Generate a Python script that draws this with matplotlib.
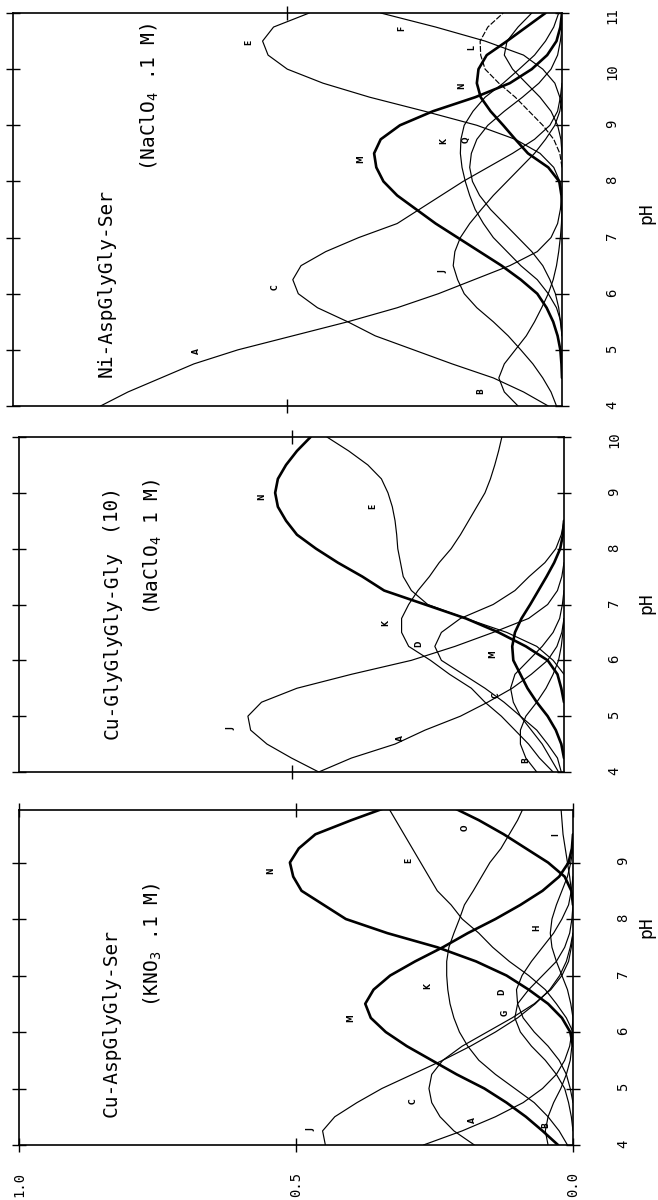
import numpy as np
import matplotlib
matplotlib.use("Agg")
import matplotlib.pyplot as plt

plt.rcParams['font.family'] = ['DejaVu Sans Mono', 'DejaVu Sans']
plt.rcParams['mathtext.fontset'] = 'custom'
plt.rcParams['mathtext.rm'] = 'DejaVu Sans Mono'
plt.rcParams['mathtext.default'] = 'rm'

# ---------------- data ----------------
PH_NI = [4.0, 4.25, 4.5, 4.75, 5.0, 5.25, 5.5, 5.75, 6.0, 6.25, 6.5, 6.75, 7.0, 7.25,
         7.5, 7.75, 8.0, 8.25, 8.5, 8.75, 9.0, 9.25, 9.5, 9.75, 10.0, 10.25, 10.5, 10.75, 11.0]
PH_CU = [4.0, 4.25, 4.5, 4.75, 5.0, 5.25, 5.5, 5.75, 6.0, 6.25, 6.5, 6.75, 7.0, 7.25,
         7.5, 7.75, 8.0, 8.25, 8.5, 8.75, 9.0, 9.25, 9.5, 9.75, 10.0]

# Ni-AspGlyGly-Ser
ni_A = [0.84, 0.79, 0.73, 0.67, 0.59, 0.49, 0.39, 0.30, 0.225, 0.16, 0.095, 0.045, 0.02, 0.008,
        0.003, 0, 0, 0, 0, 0, 0, 0, 0, 0, 0, 0, 0, 0, 0]
ni_B = [0.08, 0.105, 0.115, 0.105, 0.085, 0.065, 0.05, 0.037, 0.025, 0.016, 0.01, 0.006, 0.003, 0.001,
        0, 0, 0, 0, 0, 0, 0, 0, 0, 0, 0, 0, 0, 0, 0]
ni_C = [0.025, 0.07, 0.125, 0.2, 0.27, 0.34, 0.39, 0.445, 0.48, 0.49, 0.475, 0.43, 0.37, 0.30,
        0.26, 0.22, 0.18, 0.135, 0.09, 0.05, 0.022, 0.008, 0.003, 0, 0, 0, 0, 0, 0]
ni_E = [0, 0, 0, 0, 0, 0, 0, 0, 0, 0, 0, 0, 0, 0,
        0, 0, 0.004, 0.015, 0.04, 0.085, 0.155, 0.25, 0.35, 0.435, 0.50, 0.535, 0.545, 0.525, 0.46]
ni_F = [0, 0, 0, 0, 0, 0, 0, 0, 0, 0, 0, 0, 0, 0,
        0, 0, 0, 0, 0, 0, 0, 0, 0.004, 0.013, 0.035, 0.07, 0.14, 0.23, 0.33]
ni_J = [0.01, 0.02, 0.035, 0.053, 0.075, 0.098, 0.125, 0.155, 0.178, 0.19, 0.198, 0.195, 0.185, 0.168,
        0.147, 0.125, 0.1, 0.075, 0.05, 0.03, 0.013, 0.004, 0, 0, 0, 0, 0, 0, 0]
ni_K = [0, 0, 0, 0, 0, 0, 0.002, 0.01, 0.025, 0.045, 0.075, 0.1, 0.125, 0.143,
        0.158, 0.168, 0.176, 0.182, 0.185, 0.184, 0.178, 0.162, 0.14, 0.107, 0.078, 0.05, 0.03, 0.015, 0.006]
ni_L = [0, 0, 0, 0, 0, 0, 0, 0, 0, 0, 0, 0, 0, 0,
        0, 0, 0, 0, 0.004, 0.015, 0.035, 0.06, 0.085, 0.115, 0.14, 0.148, 0.149, 0.135, 0.107]
ni_M = [0, 0, 0, 0.001, 0.003, 0.008, 0.016, 0.028, 0.045, 0.075, 0.11, 0.15, 0.19, 0.23,
        0.265, 0.30, 0.325, 0.338, 0.342, 0.33, 0.295, 0.235, 0.158, 0.095, 0.055, 0.027, 0.01, 0.003, 0]
ni_N = [0, 0, 0, 0, 0, 0, 0, 0, 0, 0, 0, 0, 0, 0,
        0, 0.001, 0.005, 0.025, 0.062, 0.085, 0.107, 0.13, 0.148, 0.155, 0.152, 0.137, 0.1, 0.065, 0.03]
ni_O = [0, 0, 0, 0, 0, 0, 0, 0, 0, 0, 0, 0, 0, 0,
        0, 0, 0, 0, 0, 0.002, 0.008, 0.02, 0.04, 0.065, 0.09, 0.105, 0.1, 0.08, 0.055]
ni_Q = [0, 0, 0, 0, 0, 0, 0.003, 0.006, 0.012, 0.022, 0.035, 0.055, 0.08, 0.105,
        0.13, 0.15, 0.163, 0.168, 0.165, 0.155, 0.135, 0.105, 0.072, 0.042, 0.02, 0.008, 0.003, 0, 0]

# Cu-GlyGlyGly-Gly
gg_A = [0.45, 0.39, 0.31, 0.255, 0.19, 0.14, 0.095, 0.06, 0.03, 0.013, 0.004, 0, 0,
        0, 0, 0, 0, 0, 0, 0, 0, 0, 0, 0, 0]
gg_B = [0.05, 0.07, 0.08, 0.08, 0.07, 0.05, 0.033, 0.02, 0.01, 0.005, 0.002, 0, 0,
        0, 0, 0, 0, 0, 0, 0, 0, 0, 0, 0, 0]
gg_C = [0.01, 0.025, 0.04, 0.06, 0.08, 0.093, 0.098, 0.09, 0.065, 0.04, 0.02, 0.008, 0.003,
        0, 0, 0, 0, 0, 0, 0, 0, 0, 0, 0, 0]
gg_D = [0.005, 0.012, 0.03, 0.05, 0.08, 0.11, 0.145, 0.185, 0.225, 0.237, 0.225, 0.19, 0.13,
        0.09, 0.064, 0.035, 0.015, 0.005, 0, 0, 0, 0, 0, 0, 0]
gg_E = [0, 0, 0, 0, 0, 0, 0, 0, 0.02, 0.05, 0.105, 0.18, 0.25,
        0.28, 0.295, 0.30, 0.305, 0.307, 0.31, 0.315, 0.323, 0.335, 0.36, 0.395, 0.435]
gg_J = [0.45, 0.50, 0.545, 0.575, 0.58, 0.555, 0.49, 0.39, 0.28, 0.2, 0.13, 0.065, 0.03,
        0.012, 0.004, 0, 0, 0, 0, 0, 0, 0, 0, 0, 0]
gg_K = [0.02, 0.045, 0.065, 0.09, 0.115, 0.145, 0.17, 0.21, 0.245, 0.285, 0.298, 0.298, 0.285,
        0.268, 0.247, 0.229, 0.207, 0.19, 0.175, 0.16, 0.145, 0.135, 0.127, 0.12, 0.114]
gg_M = [0, 0, 0.005, 0.015, 0.03, 0.05, 0.067, 0.08, 0.093, 0.095, 0.09, 0.078, 0.062,
        0.047, 0.032, 0.018, 0.007, 0.002, 0, 0, 0, 0, 0, 0, 0]
gg_N = [0, 0, 0, 0, 0, 0, 0.005, 0.012, 0.03, 0.07, 0.12, 0.18, 0.255,
        0.33, 0.37, 0.415, 0.455, 0.49, 0.51, 0.525, 0.53, 0.525, 0.51, 0.49, 0.465]

# Cu-AspGlyGly-Ser
ag_A = [0.27, 0.2, 0.14, 0.09, 0.055, 0.03, 0.015, 0.006, 0.002, 0, 0, 0, 0,
        0, 0, 0, 0, 0, 0, 0, 0, 0, 0, 0, 0]
ag_B = [0.045, 0.05, 0.045, 0.035, 0.022, 0.012, 0.005, 0.002, 0, 0, 0, 0, 0,
        0, 0, 0, 0, 0, 0, 0, 0, 0, 0, 0, 0]
ag_C = [0.178, 0.215, 0.24, 0.255, 0.26, 0.255, 0.235, 0.2, 0.155, 0.11, 0.07, 0.04, 0.02,
        0.008, 0.003, 0, 0, 0, 0, 0, 0, 0, 0, 0, 0]
ag_D = [0, 0, 0, 0, 0.005, 0.012, 0.025, 0.045, 0.07, 0.09, 0.1, 0.102, 0.092,
        0.075, 0.055, 0.035, 0.02, 0.008, 0.003, 0, 0, 0, 0, 0, 0]
ag_E = [0, 0, 0, 0, 0, 0, 0, 0, 0, 0.012, 0.03, 0.05, 0.08,
        0.115, 0.145, 0.17, 0.2, 0.22, 0.245, 0.26, 0.275, 0.29, 0.305, 0.32, 0.335]
ag_G = [0, 0, 0.003, 0.008, 0.015, 0.03, 0.05, 0.075, 0.095, 0.105, 0.1, 0.08, 0.055,
        0.03, 0.015, 0.006, 0.002, 0, 0, 0, 0, 0, 0, 0, 0]
ag_H = [0, 0, 0, 0, 0, 0, 0, 0, 0, 0, 0.004, 0.01, 0.02,
        0.03, 0.038, 0.041, 0.038, 0.03, 0.02, 0.01, 0.004, 0, 0, 0, 0]
ag_I = [0, 0, 0, 0, 0, 0, 0, 0, 0, 0, 0, 0, 0,
        0, 0, 0, 0, 0, 0.003, 0.006, 0.01, 0.014, 0.018, 0.02, 0.022]
ag_J = [0.447, 0.452, 0.43, 0.39, 0.345, 0.29, 0.235, 0.185, 0.14, 0.10, 0.068, 0.042, 0.024,
        0.012, 0.005, 0, 0, 0, 0, 0, 0, 0, 0, 0, 0]
ag_K = [0.01, 0.025, 0.045, 0.07, 0.105, 0.14, 0.17, 0.19, 0.205, 0.215, 0.222, 0.226, 0.228,
        0.228, 0.224, 0.215, 0.205, 0.196, 0.18, 0.165, 0.15, 0.13, 0.115, 0.10, 0.088]
ag_M = [0.027, 0.055, 0.085, 0.12, 0.16, 0.21, 0.255, 0.3, 0.338, 0.365, 0.375, 0.36, 0.33,
        0.285, 0.235, 0.19, 0.14, 0.095, 0.055, 0.025, 0.008, 0.002, 0, 0, 0]
ag_N = [0, 0, 0, 0, 0, 0, 0, 0, 0.005, 0.02, 0.045, 0.08, 0.12,
        0.175, 0.245, 0.335, 0.41, 0.45, 0.49, 0.505, 0.511, 0.495, 0.465, 0.4, 0.33]
ag_O = [0, 0, 0, 0, 0, 0, 0, 0, 0, 0, 0, 0, 0,
        0, 0, 0, 0, 0, 0.003, 0.015, 0.045, 0.085, 0.125, 0.17, 0.222]

# curve-letter annotation positions (fraction, pH)
ni_labels = {'A': (0.653, 4.98), 'B': (0.136, 4.27), 'C': (0.51, 6.12), 'E': (0.558, 10.48),
             'F': (0.279, 10.73), 'J': (0.204, 6.39), 'K': (0.204, 8.72), 'L': (0.153, 10.39),
             'M': (0.354, 8.39), 'N': (0.17, 9.7), 'Q': (0.163, 8.75)}
gg_labels = {'J': (0.6, 4.78), 'A': (0.288, 4.6), 'B': (0.058, 4.21), 'C': (0.112, 5.37),
             'D': (0.254, 6.3), 'K': (0.315, 6.66), 'M': (0.119, 6.12), 'N': (0.542, 8.93),
             'E': (0.338, 8.75)}
ag_labels = {'J': (0.462, 4.27), 'C': (0.277, 4.77), 'A': (0.17, 4.44), 'B': (0.038, 4.36),
             'M': (0.39, 6.25), 'K': (0.25, 6.81), 'G': (0.11, 6.34), 'D': (0.117, 6.72),
             'H': (0.053, 7.85), 'N': (0.534, 8.85), 'E': (0.284, 9.03), 'O': (0.182, 9.62),
             'I': (0.019, 9.5)}

ni_curves = {'A': ni_A, 'B': ni_B, 'C': ni_C, 'E': ni_E, 'F': ni_F, 'J': ni_J, 'K': ni_K,
             'L': ni_L, 'M': ni_M, 'N': ni_N, 'O': ni_O, 'Q': ni_Q}
gg_curves = {'A': gg_A, 'B': gg_B, 'C': gg_C, 'D': gg_D, 'E': gg_E, 'J': gg_J, 'K': gg_K,
             'M': gg_M, 'N': gg_N}
ag_curves = {'A': ag_A, 'B': ag_B, 'C': ag_C, 'D': ag_D, 'E': ag_E, 'G': ag_G, 'H': ag_H,
             'I': ag_I, 'J': ag_J, 'K': ag_K, 'M': ag_M, 'N': ag_N, 'O': ag_O}

# ---------------- figure ----------------
W, H = 658, 1200
fig = plt.figure(figsize=(W / 100, H / 100), dpi=100)
fig.patch.set_facecolor('white')


def px_axes(x0, x1, y_top, y_bot):
    return fig.add_axes([x0 / W, 1 - y_bot / H, (x1 - x0) / W, (y_bot - y_top) / H])


def trim(vals):
    v = np.array(vals, dtype=float)
    keep = v > 0
    k = keep.copy()
    k[1:] |= keep[:-1]
    k[:-1] |= keep[1:]
    v[~k] = np.nan
    return v


def draw_panel(ax, ph, curves, labels, thick, dashed, ymax, yticks, xlabels):
    for name, vals in curves.items():
        lw = 1.9 if name in thick else 0.85
        ls = (0, (5, 1.5)) if name in dashed else '-'
        ax.plot(trim(vals), ph, color='black', lw=lw, ls=ls, solid_capstyle='round')
    for name, (f, p) in labels.items():
        ax.text(f + 0.012, p, name, rotation=90, fontsize=5.5, fontweight='bold',
                ha='center', va='center', family='DejaVu Sans')
    ax.set_xlim(1.0, 0.0)
    ax.set_ylim(4, ymax)
    ax.set_yticks(yticks)
    ax.set_yticklabels([str(t) for t in yticks])
    ax.tick_params(axis='y', direction='inout', length=10, width=1.0, left=True, right=True,
                   labelleft=False, labelright=True, labelrotation=90, pad=26, labelsize=10)
    if xlabels:
        ax.set_xticks([1.0, 0.5, 0.0])
        ax.set_xticklabels(['1.0', '0.5', '0.0'])
        ax.tick_params(axis='x', direction='inout', length=10, width=1.0, top=True, bottom=True,
                       labelbottom=True, labelrotation=90, pad=14, labelsize=10)
    else:
        ax.set_xticks([0.5])
        ax.tick_params(axis='x', direction='inout', length=10, width=1.0, top=True, bottom=True,
                       labelbottom=False)
    for s in ax.spines.values():
        s.set_linewidth(1.2)
    ax.set_facecolor('none')


ax_ni = px_axes(12.6, 562, 13, 406)
draw_panel(ax_ni, PH_NI, ni_curves, ni_labels, thick={'M', 'N'}, dashed={'L'},
           ymax=11, yticks=[4, 5, 6, 7, 8, 9, 10, 11], xlabels=False)

ax_gg = px_axes(19, 564, 437, 772)
draw_panel(ax_gg, PH_CU, gg_curves, gg_labels, thick={'M', 'N'}, dashed=set(),
           ymax=10, yticks=[4, 5, 6, 7, 8, 9, 10], xlabels=False)

ax_ag = px_axes(19, 573, 810, 1145)
draw_panel(ax_ag, PH_CU, ag_curves, ag_labels, thick={'M', 'N', 'O'}, dashed=set(),
           ymax=9.93, yticks=[4, 5, 6, 7, 8, 9], xlabels=True)


def ftext(x, y, s, size):
    fig.text(x / W, 1 - y / H, s, rotation=90, ha='center', va='center', fontsize=size)


ftext(106, 283, 'Ni-AspGlyGly-Ser', 14)
ftext(150, 97, '(NaClO$_4$ .1 M)', 14)
ftext(112, 645, 'Cu-GlyGlyGly-Gly', 14)
ftext(108, 507, '(10)', 14)
ftext(153, 547, '(NaClO$_4$ 1 M)', 14)
ftext(111, 1023, 'Cu-AspGlyGly-Ser', 14)
ftext(153, 945, '(KNO$_3$ .1 M)', 14)

ftext(646, 213, 'pH', 13)
ftext(646, 603, 'pH', 13)
ftext(646, 927, 'pH', 13)

fig.savefig('out.png', dpi=100, facecolor='white')
